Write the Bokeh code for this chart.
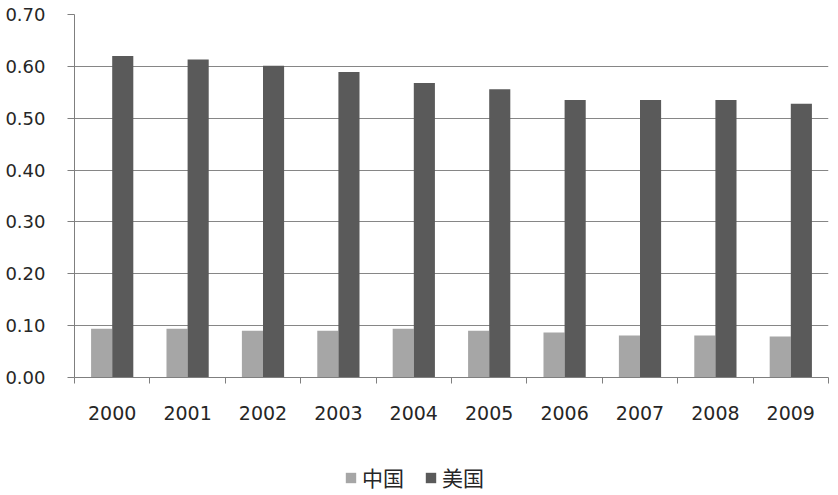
from bokeh.plotting import figure
from bokeh.layouts import column
from bokeh.models import ColumnDataSource, FixedTicker, Range1d, Legend, LegendItem, NumeralTickFormatter
from bokeh.transform import dodge
from bokeh.embed import file_html
from bokeh.resources import INLINE

years = ["2000", "2001", "2002", "2003", "2004", "2005", "2006", "2007", "2008", "2009"]
china = [0.094, 0.094, 0.090, 0.090, 0.094, 0.090, 0.087, 0.081, 0.081, 0.079]
usa = [0.620, 0.613, 0.601, 0.589, 0.568, 0.556, 0.535, 0.535, 0.535, 0.528]
series_names = ["中国", "美国"]
y_ticks = [0.0, 0.1, 0.2, 0.3, 0.4, 0.5, 0.6, 0.7]

china_color = "#a6a6a6"
usa_color = "#5a5a5a"

xs = list(range(len(years)))
src = ColumnDataSource(dict(x=xs, china=china, usa=usa))

p = figure(width=830, height=430, output_backend="svg", toolbar_location=None,
           x_range=Range1d(-0.5, len(years) - 0.5), y_range=Range1d(0, 0.7),
           min_border_left=74, min_border_right=2, min_border_top=14, min_border_bottom=53)
p.outline_line_color = None
p.background_fill_color = "white"
p.border_fill_color = "white"

bw = 0.28
p.vbar(x=dodge("x", -bw / 2), top="china", width=bw, source=src,
       fill_color=china_color, line_color=None)
p.vbar(x=dodge("x", bw / 2), top="usa", width=bw, source=src,
       fill_color=usa_color, line_color=None)

# x axis
p.xaxis.ticker = FixedTicker(ticks=xs, minor_ticks=[i - 0.5 for i in range(len(years) + 1)])
p.xaxis.major_label_overrides = {i: y for i, y in enumerate(years)}
p.xaxis.major_tick_line_color = None
p.xaxis.major_tick_out = 0
p.xaxis.minor_tick_line_color = "#7f7f7f"
p.xaxis.minor_tick_out = 6
p.xaxis.minor_tick_in = 0
p.xaxis.axis_line_color = "#7f7f7f"
p.xaxis.major_label_text_font = "DejaVu Sans"
p.xaxis.major_label_text_font_size = "19px"
p.xaxis.major_label_text_color = "#262626"
p.xaxis.major_label_standoff = 22

# y axis
p.yaxis.ticker = FixedTicker(ticks=y_ticks)
p.yaxis.formatter = NumeralTickFormatter(format="0.00")
p.yaxis.axis_line_color = "#7f7f7f"
p.yaxis.major_tick_line_color = "#7f7f7f"
p.yaxis.major_tick_out = 7
p.yaxis.major_tick_in = 0
p.yaxis.minor_tick_line_color = None
p.yaxis.major_label_text_font = "DejaVu Sans"
p.yaxis.major_label_text_font_size = "18px"
p.yaxis.major_label_text_color = "#262626"
p.yaxis.major_label_standoff = 22

p.xgrid.grid_line_color = None
p.ygrid.ticker = FixedTicker(ticks=y_ticks)
p.ygrid.grid_line_color = "#868686"

# legend strip below the chart
lg = figure(width=830, height=62, output_backend="svg", toolbar_location=None,
            x_axis_type=None, y_axis_type=None,
            x_range=Range1d(0, 1), y_range=Range1d(10, 11),
            min_border=0)
lg.outline_line_color = None
lg.grid.grid_line_color = None
l1 = lg.vbar(x="x", top="china", width=bw, source=src, fill_color=china_color, line_color=None)
l2 = lg.vbar(x="x", top="usa", width=bw, source=src, fill_color=usa_color, line_color=None)
legend = Legend(items=[LegendItem(label=series_names[0], renderers=[l1]),
                       LegendItem(label=series_names[1], renderers=[l2])],
                orientation="horizontal", location=(270, 0),
                label_text_font="Noto Sans CJK SC", label_text_font_size="21px",
                label_text_color="#262626", glyph_width=13, glyph_height=13,
                label_standoff=5, spacing=20, padding=0, margin=0,
                border_line_color=None, background_fill_alpha=0)
lg.add_layout(legend, "center")

layout = column(p, lg, spacing=0)
open("out.html", "w").write(file_html(layout, INLINE))
